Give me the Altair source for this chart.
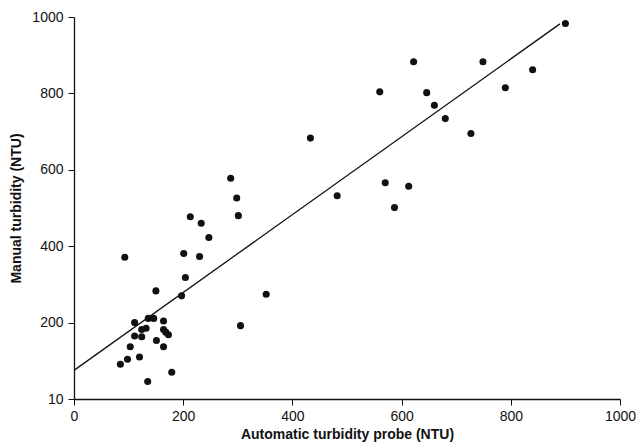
import altair as alt
import pandas as pd

# Scatter data
probe_ntu = [93, 201, 230, 204, 150, 197, 111, 136, 146, 164, 124, 132, 164, 168, 173,
             111, 124, 151, 103, 164, 120, 98, 85, 179, 135, 305,
             287, 298, 301, 213, 233, 247, 352, 482, 433, 560, 570, 587,
             900, 622, 749, 840, 790, 646, 660, 680, 727, 613]
manual_ntu = [371, 381, 373, 318, 283, 270, 200, 211, 211, 204, 182, 185, 182, 175, 168,
              165, 163, 153, 137, 137, 110, 104, 91, 70, 46, 192,
              578, 526, 480, 477, 460, 423, 274, 532, 683, 804, 566, 501,
              983, 883, 883, 862, 815, 802, 769, 734, 695, 557]

# Fitted line end points
fit_x = [0, 890]
fit_y = [75, 982]

x_ticks = [0, 200, 400, 600, 800, 1000]
y_ticks = [0, 200, 400, 600, 800, 1000]

pts = pd.DataFrame({"probe": probe_ntu, "manual": manual_ntu})
fit = pd.DataFrame({"probe": fit_x, "manual": fit_y})

FONT = "Liberation Sans"

x_enc = alt.X(
    "probe:Q",
    scale=alt.Scale(domain=[0, 1000], nice=False, zero=False),
    axis=alt.Axis(
        title="Automatic turbidity probe (NTU)",
        values=x_ticks,
        format="d",
        grid=False,
        tickSize=6,
        labelPadding=4,
        titlePadding=4,
        labelFontSize=14,
        titleFontSize=14,
        labelFont=FONT,
        titleFont=FONT,
        titleFontWeight="bold",
        labelColor="#111",
        titleColor="#111",
        domainColor="#111",
        tickColor="#111",
        domainWidth=1.3,
        labelFlush=False,
    ),
)
y_enc = alt.Y(
    "manual:Q",
    scale=alt.Scale(domain=[0, 1000], nice=False, zero=False),
    axis=alt.Axis(
        title="Manual turbidity (NTU)",
        values=y_ticks,
        format="d",
        labelExpr="datum.value == 0 ? '10' : datum.label",
        grid=False,
        tickSize=6,
        labelPadding=5,
        titlePadding=8,
        labelFontSize=14,
        titleFontSize=14,
        labelFont=FONT,
        titleFont=FONT,
        titleFontWeight="bold",
        labelColor="#111",
        titleColor="#111",
        domainColor="#111",
        tickColor="#111",
        domainWidth=1.3,
        labelFlush=False,
    ),
)

points = alt.Chart(pts).mark_circle(size=50, color="#111", opacity=1).encode(x=x_enc, y=y_enc)
line = alt.Chart(fit).mark_line(color="#111", strokeWidth=1.3).encode(x="probe:Q", y="manual:Q")

chart = (
    alt.layer(line, points)
    .properties(
        width=546,
        height=382,
        autosize=alt.AutoSizeParams(type="none"),
        padding={"left": 74, "top": 17, "right": 21, "bottom": 49},
        background="white",
    )
    .configure_view(stroke=None)
)

chart.save("out.html", embed_options={"renderer": "svg", "actions": False})
